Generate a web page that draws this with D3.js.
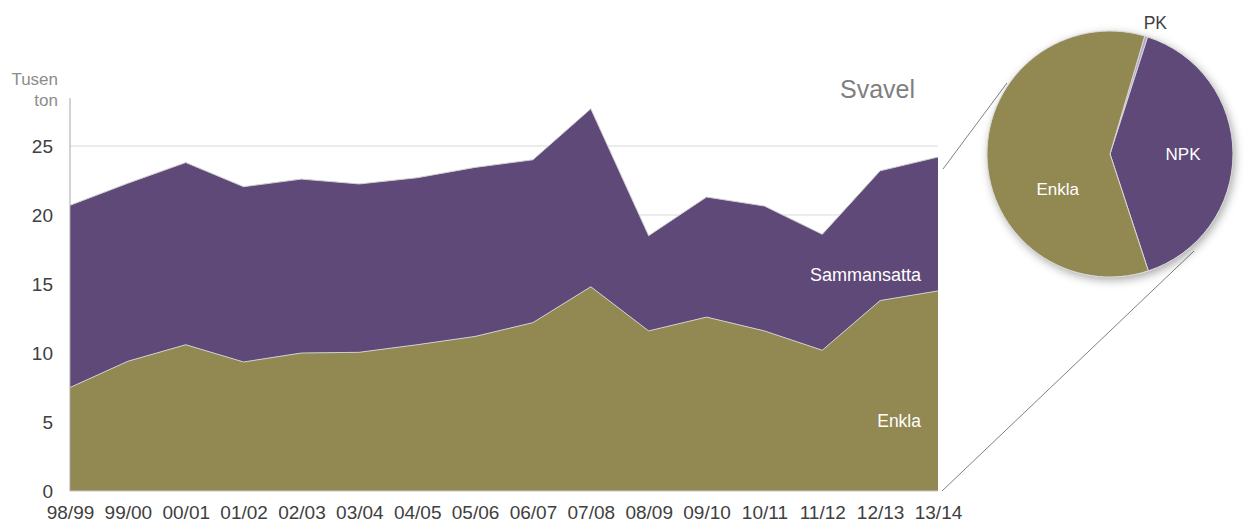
<!DOCTYPE html>
<html>
<head>
<meta charset="utf-8">
<script src="https://cdn.jsdelivr.net/npm/d3@7"></script>
<style>
  body { margin: 0; background: #fff; }
  svg { font-family: "Liberation Sans", Arial, sans-serif; }
</style>
</head>
<body>
<svg id="chart" width="1245" height="532"></svg>
<script>
// season labels on the x axis
const seasons = ["98/99","99/00","00/01","01/02","02/03","03/04","04/05","05/06",
  "06/07","07/08","08/09","09/10","10/11","11/12","12/13","13/14"];
// thousand tonnes of sulphur
const enkla = [7.5, 9.4, 10.6, 9.35, 10.0, 10.05, 10.6, 11.2, 12.2, 14.8, 11.6, 12.6, 11.6, 10.2, 13.8, 14.5];
const sammansatta = [13.2, 12.9, 13.2, 12.7, 12.6, 12.2, 12.1, 12.25, 11.8, 12.9, 6.9, 8.7, 9.05, 8.4, 9.4, 9.7];
const yTicks = [0, 5, 10, 15, 20, 25];
// share of 13/14 by product type
const pieLabels = ["PK", "NPK", "Enkla"];
const pieValues = [0.4, 40.0, 59.6];

const olive = "#928852", purple = "#5e4978", pkColor = "#b3a6cf";

const svg = d3.select("#chart");
const x0 = 70, x1 = 938, yBottom = 491, yTop = 98;

const xScale = d3.scalePoint().domain(seasons).range([x0, x1]);
const yScale = d3.scaleLinear().domain([0, 25]).range([yBottom, 146]);

const rows = seasons.map((s, i) => ({season: s, enkla: enkla[i], sammansatta: sammansatta[i]}));
const stack = d3.stack().keys(["enkla", "sammansatta"]);
const layers = stack(rows);

// grid lines
svg.append("g")
  .selectAll("line")
  .data(yTicks.filter(d => d > 0))
  .enter().append("line")
  .attr("x1", x0).attr("x2", x1)
  .attr("y1", d => yScale(d)).attr("y2", d => yScale(d))
  .attr("stroke", "#d9d9d9").attr("stroke-width", 1);

const area = d3.area()
  .x(d => xScale(d.data.season))
  .y0(d => yScale(d[0]))
  .y1(d => yScale(d[1]));
const topLine = d3.line()
  .x(d => xScale(d.data.season))
  .y(d => yScale(d[1]));

const fills = [olive, purple];
svg.append("g").selectAll("path")
  .data(layers)
  .enter().append("path")
  .attr("d", area)
  .attr("fill", (d, i) => fills[i]);
svg.append("g").selectAll("path")
  .data(layers)
  .enter().append("path")
  .attr("d", topLine)
  .attr("fill", "none")
  .attr("stroke", "#d0d0d0")
  .attr("stroke-width", 1);

// axes
const yAxis = d3.axisLeft(yScale).tickValues(yTicks).tickSize(0).tickPadding(17);
const gy = svg.append("g").attr("transform", `translate(${x0},0)`).call(yAxis);
gy.select(".domain").remove();
gy.selectAll("text").attr("font-size", 19).attr("fill", "#404040")
  .attr("font-family", "Liberation Sans, Arial, sans-serif");
svg.append("line").attr("x1", x0).attr("x2", x0).attr("y1", yTop).attr("y2", yBottom)
  .attr("stroke", "#a6a6a6");

const xAxis = d3.axisBottom(xScale).tickSize(0).tickPadding(15);
const gx = svg.append("g").attr("transform", `translate(0,${yBottom})`).call(xAxis);
gx.select(".domain").remove();
gx.selectAll("text").attr("font-size", 19).attr("fill", "#404040")
  .attr("font-family", "Liberation Sans, Arial, sans-serif");
svg.append("line").attr("x1", x0).attr("x2", x1).attr("y1", yBottom).attr("y2", yBottom)
  .attr("stroke", "#c8c8c8");

// unit label
const unit = svg.append("text").attr("text-anchor", "end").attr("fill", "#8c8c8c")
  .attr("font-size", 17);
unit.append("tspan").attr("x", 58).attr("y", 85).text("Tusen");
unit.append("tspan").attr("x", 58).attr("y", 106).text("ton");

// title and area labels
svg.append("text").attr("x", 915).attr("y", 98).attr("text-anchor", "end")
  .attr("font-size", 25).attr("fill", "#7f7f7f").text("Svavel");
svg.append("text").attr("x", 921).attr("y", 281).attr("text-anchor", "end")
  .attr("font-size", 18).attr("fill", "#fff").text("Sammansatta");
svg.append("text").attr("x", 921).attr("y", 427).attr("text-anchor", "end")
  .attr("font-size", 17.5).attr("fill", "#fff").text("Enkla");

// connector lines to the pie
svg.append("line").attr("x1", 943).attr("y1", 169).attr("x2", 1007).attr("y2", 83)
  .attr("stroke", "#7f7f7f").attr("stroke-width", 1);
svg.append("line").attr("x1", 942).attr("y1", 491).attr("x2", 1194).attr("y2", 251)
  .attr("stroke", "#7f7f7f").attr("stroke-width", 1);

// pie
const defs = svg.append("defs");
const shadow = defs.append("filter").attr("id", "shadow")
  .attr("x", "-20%").attr("y", "-20%").attr("width", "140%").attr("height", "140%");
shadow.append("feDropShadow").attr("dx", 2).attr("dy", 3).attr("stdDeviation", 5)
  .attr("flood-color", "#000").attr("flood-opacity", 0.35);

const cx = 1110, cy = 154, r = 123;
const start = 16.4 * Math.PI / 180;
const pie = d3.pie().sort(null).startAngle(start).endAngle(start + 2 * Math.PI);
const arcs = pie(pieValues);
const arc = d3.arc().innerRadius(0).outerRadius(r);
const pieColors = [pkColor, purple, olive];

const gp = svg.append("g").attr("transform", `translate(${cx},${cy})`);
gp.append("circle").attr("r", r).attr("fill", "#fff").attr("filter", "url(#shadow)");
gp.selectAll("path")
  .data(arcs)
  .enter().append("path")
  .attr("d", arc)
  .attr("fill", (d, i) => pieColors[i])
  .attr("stroke", "#d8d8d8")
  .attr("stroke-width", 1);

// label placement inside slices: [angle in degrees clockwise from top, radius]
const labelPlace = [null, [90, 73], [236, 63]];
gp.selectAll("text.in")
  .data(arcs.slice(1))
  .enter().append("text")
  .attr("class", "in")
  .attr("transform", (d, i) => {
    const p = labelPlace[i + 1], a = p[0] * Math.PI / 180;
    return `translate(${p[1] * Math.sin(a)},${-p[1] * Math.cos(a)})`;
  })
  .attr("text-anchor", "middle")
  .attr("dy", "0.35em")
  .attr("font-size", 17)
  .attr("fill", "#fff")
  .text((d, i) => pieLabels[i + 1]);

const pkArc = d3.arc().innerRadius(r + 14).outerRadius(r + 14);
const pc = pkArc.centroid(arcs[0]);
gp.append("text")
  .attr("x", pc[0] + 5).attr("y", pc[1])
  .attr("text-anchor", "middle").attr("dy", "0.35em")
  .attr("font-size", 17.5).attr("fill", "#404040")
  .text(pieLabels[0]);
</script>
</body>
</html>
